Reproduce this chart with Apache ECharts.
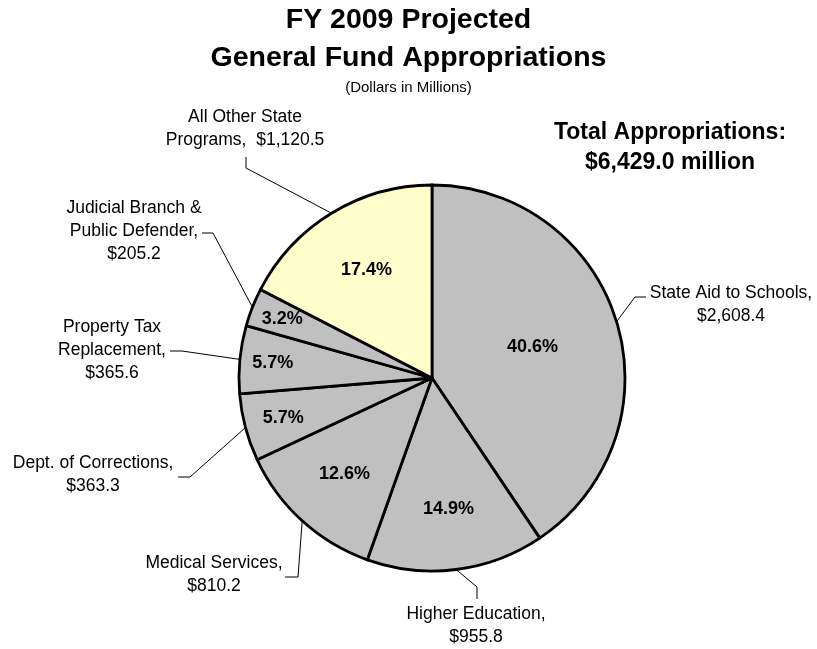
<!DOCTYPE html>
<html>
<head>
<meta charset="utf-8">
<script src="https://cdn.jsdelivr.net/npm/echarts@6/dist/echarts.min.js"></script>
<style>
  html, body { margin: 0; background: #fff; }
  #chart { width: 817px; height: 649px; }
</style>
</head>
<body>
<div id="chart"></div>
<script>
// slices, clockwise from 12 o'clock
const categories = [
  "State Aid to Schools",
  "Higher Education",
  "Medical Services",
  "Dept. of Corrections",
  "Property Tax\nReplacement",
  "Judicial Branch &\nPublic Defender",
  "All Other State\nPrograms"
];
const values = [2608.4, 955.8, 810.2, 363.3, 365.6, 205.2, 1120.5];

// styling / layout
const sliceColors = ["#C0C0C0", "#C0C0C0", "#C0C0C0", "#C0C0C0", "#C0C0C0", "#C0C0C0", "#FFFFCC"];
const valueSep = ["\n", "\n", "\n", "\n", "\n", "\n", "  "];
const labelPos = [[731, 305], [476, 626], [214, 575], [93, 475], [112, 350], [134, 231], [245, 129]];
const leaderPts = [
  [[635, 297], [646, 297]],
  [[477, 587], [477, 599]],
  [[298, 577], [285, 577]],
  [[190, 477], [178, 477]],
  [[182, 351], [170, 351]],
  [[213, 233], [202, 233]],
  [[246, 168], [246, 157]]
];
const pctRadius = [105, 132, 130, 154, 160, 161, 126];

const CX = 432, CY = 378, R = 193;
const FONT = "'Liberation Sans', Arial, sans-serif";
const total = values.reduce((a, b) => a + b, 0);

const fmtMoney = v => "$" + v.toLocaleString("en-US", { minimumFractionDigits: 1, maximumFractionDigits: 1 });
const pieData = categories.map((name, i) => ({
  name: name,
  value: values[i],
  itemStyle: { color: sliceColors[i] }
}));

const chart = echarts.init(document.getElementById("chart"));
chart.setOption({
  animation: false,
  backgroundColor: "#fff",
  title: [
    {
      text: "FY 2009 Projected\nGeneral Fund Appropriations",
      subtext: "(Dollars in Millions)",
      left: "center",
      top: 1,
      itemGap: 2,
      padding: 0,
      textStyle: { fontFamily: FONT, fontSize: 28.5, fontWeight: "bold", color: "#000", lineHeight: 38 },
      subtextStyle: { fontFamily: FONT, fontSize: 15, color: "#000", lineHeight: 18 }
    },
    {
      text: "Total Appropriations:\n" + fmtMoney(total) + " million",
      left: 670,
      top: 118,
      padding: 0,
      textAlign: "center",
      textVerticalAlign: "top",
      textStyle: { fontFamily: FONT, fontSize: 23, fontWeight: "bold", color: "#000", lineHeight: 30 }
    }
  ],
  series: [
    {
      // sectors + outside name/value labels
      type: "pie",
      center: [CX, CY],
      radius: R,
      startAngle: 90,
      clockwise: true,
      avoidLabelOverlap: false,
      silent: true,
      emphasis: { disabled: true },
      itemStyle: { borderColor: "#000", borderWidth: 2.8 },
      label: {
        show: true,
        position: "outside",
        fontFamily: FONT,
        fontSize: 17.5,
        color: "#000",
        lineHeight: 23,
        align: "center",
        formatter: p => p.name + "," + valueSep[p.dataIndex] + fmtMoney(p.value)
      },
      labelLine: { show: true, length: 10, length2: 10, lineStyle: { color: "#000", width: 1 } },
      labelLayout: function (p) {
        const i = p.dataIndex;
        const out = { x: labelPos[i][0], y: labelPos[i][1], align: "center", verticalAlign: "middle" };
        if (p.labelLinePoints) {
          out.labelLinePoints = [p.labelLinePoints[0], leaderPts[i][0], leaderPts[i][1]];
        }
        return out;
      },
      data: pieData
    },
    {
      // transparent copy, only for the percentage labels
      type: "pie",
      center: [CX, CY],
      radius: R,
      startAngle: 90,
      clockwise: true,
      silent: true,
      emphasis: { disabled: true },
      itemStyle: { color: "rgba(0,0,0,0)", borderWidth: 0 },
      label: {
        show: true,
        position: "inside",
        fontFamily: FONT,
        fontSize: 18,
        fontWeight: "bold",
        color: "#000",
        formatter: p => (p.value / total * 100).toFixed(1) + "%"
      },
      labelLine: { show: false },
      labelLayout: function (p) {
        const r = p.labelRect;
        const lx = r.x + r.width / 2, ly = r.y + r.height / 2;
        const d = Math.hypot(lx - CX, ly - CY) || 1;
        const rad = pctRadius[p.dataIndex];
        return { x: CX + (lx - CX) / d * rad, y: CY + (ly - CY) / d * rad, align: "center", verticalAlign: "middle" };
      },
      data: values.map((v, i) => ({ name: categories[i], value: v }))
    }
  ]
});
</script>
</body>
</html>
